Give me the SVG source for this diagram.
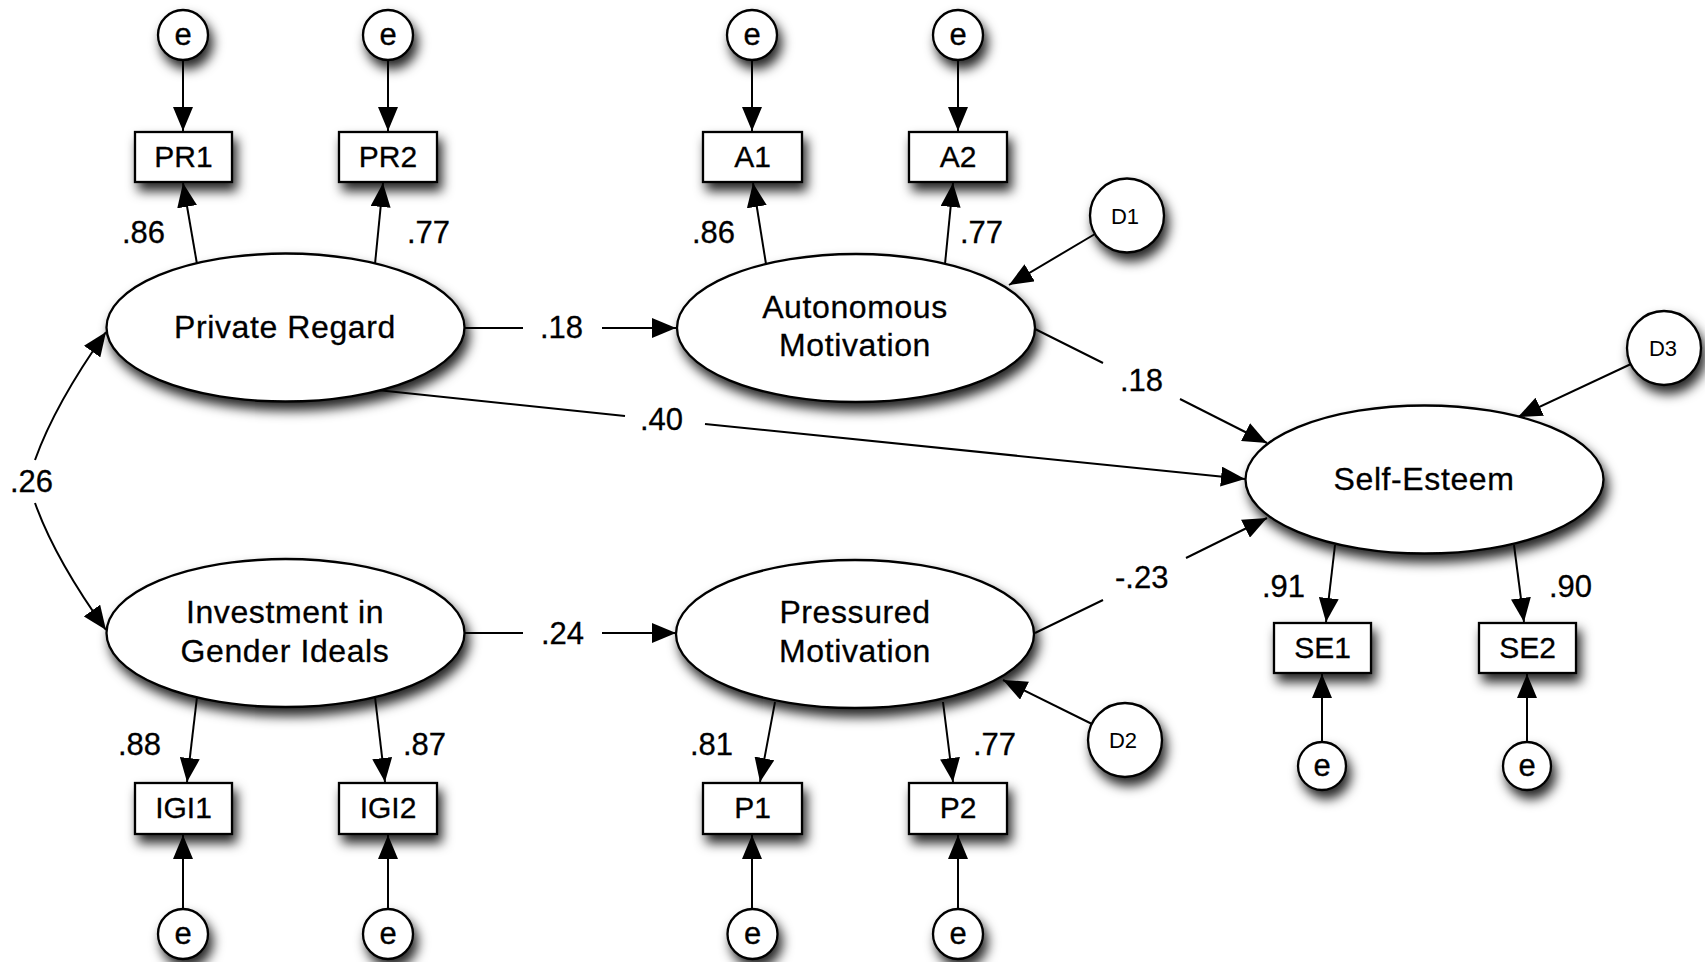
<svg xmlns="http://www.w3.org/2000/svg" width="1705" height="962" viewBox="0 0 1705 962">
<defs>
<filter id="sh" x="-40%" y="-40%" width="190%" height="200%">
<feDropShadow dx="4" dy="8" stdDeviation="6" flood-color="#000" flood-opacity="0.85"/>
</filter>
<marker id="ah" markerUnits="userSpaceOnUse" markerWidth="24" markerHeight="20" refX="24" refY="10" orient="auto">
<path d="M0,0 L24,10 L0,20 z" fill="#000"/>
</marker>
<style>
.shape{fill:#fff;stroke:#000;stroke-width:2.3;filter:url(#sh)}
.lat{font-family:"Liberation Sans",Arial,sans-serif;font-size:32px;letter-spacing:0.6px;text-anchor:middle;fill:#000;stroke:#000;stroke-width:0.3}
.box{font-family:"Liberation Sans",Arial,sans-serif;font-size:30px;text-anchor:middle;fill:#000;stroke:#000;stroke-width:0.3}
.err{font-family:"Liberation Sans",Arial,sans-serif;font-size:31px;text-anchor:middle;fill:#000;stroke:#000;stroke-width:0.3}
.dist{font-family:"Liberation Sans",Arial,sans-serif;font-size:22px;text-anchor:middle;fill:#000}
.lbl{font-family:"Liberation Sans",Arial,sans-serif;font-size:31px;fill:#000;stroke:#000;stroke-width:0.3}
.con{fill:none;stroke:#000;stroke-width:2}
.arr{fill:none;stroke:#000;stroke-width:2;marker-end:url(#ah)}
</style>
</defs>
<rect width="1705" height="962" fill="#fff"/>

<g id="connectors">
<line class="arr" x1="183" y1="60" x2="183" y2="131"/>
<line class="arr" x1="388" y1="60" x2="388" y2="131"/>
<line class="arr" x1="752" y1="60" x2="752" y2="131"/>
<line class="arr" x1="958" y1="60" x2="958" y2="131"/>
<line class="arr" x1="183" y1="908" x2="183" y2="835"/>
<line class="arr" x1="388" y1="908" x2="388" y2="835"/>
<line class="arr" x1="752" y1="908" x2="752" y2="835"/>
<line class="arr" x1="958" y1="908" x2="958" y2="835"/>
<line class="arr" x1="1322" y1="741" x2="1322" y2="674"/>
<line class="arr" x1="1527" y1="741" x2="1527" y2="674"/>
<line class="arr" x1="197" y1="264" x2="183" y2="183"/>
<line class="arr" x1="375" y1="264" x2="383" y2="183"/>
<line class="arr" x1="766" y1="264" x2="753" y2="183"/>
<line class="arr" x1="945" y1="264" x2="953" y2="183"/>
<line class="arr" x1="197" y1="697" x2="187" y2="782"/>
<line class="arr" x1="375" y1="697" x2="385" y2="782"/>
<line class="arr" x1="775" y1="702" x2="760" y2="782"/>
<line class="arr" x1="943" y1="702" x2="953" y2="782"/>
<line class="arr" x1="1335" y1="545" x2="1326" y2="622"/>
<line class="arr" x1="1514" y1="545" x2="1524" y2="622"/>
<line class="arr" x1="1095" y1="234" x2="1009" y2="285"/>
<line class="arr" x1="1092" y1="724" x2="1003" y2="680"/>
<line class="arr" x1="1631" y1="364" x2="1518" y2="417"/>
<line class="con" x1="465" y1="328" x2="523" y2="328"/>
<line class="arr" x1="602" y1="328" x2="676" y2="328"/>
<line class="con" x1="464" y1="633" x2="523" y2="633"/>
<line class="arr" x1="602" y1="633" x2="676" y2="633"/>
<line class="con" x1="377" y1="390" x2="625" y2="416"/>
<line class="arr" x1="705" y1="424" x2="1245" y2="479"/>
<line class="con" x1="1033" y1="328" x2="1103" y2="363"/>
<line class="arr" x1="1180" y1="399" x2="1267" y2="443"/>
<line class="con" x1="1035" y1="633" x2="1103" y2="600"/>
<line class="arr" x1="1186" y1="558" x2="1267" y2="518"/>
<path class="arr" d="M35,460 Q55,404 106,332"/>
<path class="arr" d="M35,503 Q55,559 106,630"/>
<text class="lbl" x="122" y="243">.86</text>
<text class="lbl" x="407" y="243">.77</text>
<text class="lbl" x="692" y="243">.86</text>
<text class="lbl" x="960" y="243">.77</text>
<text class="lbl" x="540" y="338">.18</text>
<text class="lbl" x="640" y="430">.40</text>
<text class="lbl" x="1120" y="391">.18</text>
<text class="lbl" x="10" y="492">.26</text>
<text class="lbl" x="1115" y="588">-.23</text>
<text class="lbl" x="541" y="644">.24</text>
<text class="lbl" x="118" y="755">.88</text>
<text class="lbl" x="403" y="755">.87</text>
<text class="lbl" x="690" y="755">.81</text>
<text class="lbl" x="973" y="755">.77</text>
<text class="lbl" x="1262" y="597">.91</text>
<text class="lbl" x="1549" y="597">.90</text>
</g>

<g id="PrivateRegard"><ellipse class="shape" cx="285.5" cy="327.5" rx="179" ry="74"/><text class="lat" x="285" y="338">Private Regard</text></g>
<g id="AutonomousMotivation"><ellipse class="shape" cx="856" cy="328" rx="179" ry="74"/><text class="lat" x="855" y="318">Autonomous</text><text class="lat" x="855" y="356">Motivation</text></g>
<g id="InvestmentGenderIdeals"><ellipse class="shape" cx="285.5" cy="633" rx="179" ry="74"/><text class="lat" x="285" y="623">Investment in</text><text class="lat" x="285" y="662">Gender Ideals</text></g>
<g id="PressuredMotivation"><ellipse class="shape" cx="855" cy="634" rx="179" ry="74"/><text class="lat" x="855" y="623">Pressured</text><text class="lat" x="855" y="662">Motivation</text></g>
<g id="SelfEsteem"><ellipse class="shape" cx="1424.5" cy="479.5" rx="179" ry="74"/><text class="lat" x="1424" y="490">Self-Esteem</text></g>

<g id="PR1"><rect class="shape" x="135" y="132" width="97" height="50"/><text class="box" x="183.5" y="167">PR1</text></g>
<g id="PR2"><rect class="shape" x="339" y="132" width="98" height="50"/><text class="box" x="388" y="167">PR2</text></g>
<g id="A1"><rect class="shape" x="703" y="132" width="99" height="50"/><text class="box" x="752.5" y="167">A1</text></g>
<g id="A2"><rect class="shape" x="909" y="132" width="98" height="50"/><text class="box" x="958" y="167">A2</text></g>
<g id="IGI1"><rect class="shape" x="135" y="783" width="97" height="51"/><text class="box" x="183.5" y="818">IGI1</text></g>
<g id="IGI2"><rect class="shape" x="339" y="783" width="98" height="51"/><text class="box" x="388" y="818">IGI2</text></g>
<g id="P1"><rect class="shape" x="703" y="783" width="99" height="51"/><text class="box" x="752.5" y="818">P1</text></g>
<g id="P2"><rect class="shape" x="909" y="783" width="98" height="51"/><text class="box" x="958" y="818">P2</text></g>
<g id="SE1"><rect class="shape" x="1274" y="623" width="97" height="50"/><text class="box" x="1322.5" y="658">SE1</text></g>
<g id="SE2"><rect class="shape" x="1479" y="623" width="97" height="50"/><text class="box" x="1527.5" y="658">SE2</text></g>

<g id="e_PR1"><circle class="shape" cx="183" cy="35" r="25"/><text class="err" x="183" y="45">e</text></g>
<g id="e_PR2"><circle class="shape" cx="388" cy="35" r="25"/><text class="err" x="388" y="45">e</text></g>
<g id="e_A1"><circle class="shape" cx="752" cy="35" r="25"/><text class="err" x="752" y="45">e</text></g>
<g id="e_A2"><circle class="shape" cx="958" cy="35" r="25"/><text class="err" x="958" y="45">e</text></g>
<g id="e_IGI1"><circle class="shape" cx="183" cy="934" r="25"/><text class="err" x="183" y="944">e</text></g>
<g id="e_IGI2"><circle class="shape" cx="388" cy="934" r="25"/><text class="err" x="388" y="944">e</text></g>
<g id="e_P1"><circle class="shape" cx="752.5" cy="934" r="25"/><text class="err" x="752.5" y="944">e</text></g>
<g id="e_P2"><circle class="shape" cx="958" cy="934" r="25"/><text class="err" x="958" y="944">e</text></g>
<g id="e_SE1"><circle class="shape" cx="1322" cy="766" r="24"/><text class="err" x="1322" y="776">e</text></g>
<g id="e_SE2"><circle class="shape" cx="1527" cy="766" r="24"/><text class="err" x="1527" y="776">e</text></g>

<g id="D1"><circle class="shape" cx="1127" cy="215.5" r="37"/><text class="dist" x="1125" y="223.5">D1</text></g>
<g id="D2"><circle class="shape" cx="1125" cy="740" r="37"/><text class="dist" x="1123" y="748">D2</text></g>
<g id="D3"><circle class="shape" cx="1664" cy="348" r="37"/><text class="dist" x="1663" y="356">D3</text></g>
</svg>
